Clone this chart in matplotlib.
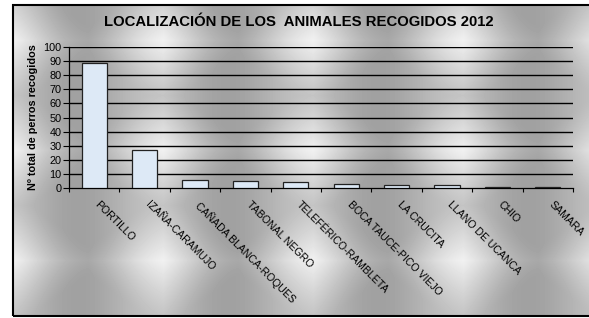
import numpy as np
import matplotlib
matplotlib.use('Agg')
import matplotlib.pyplot as plt
from matplotlib.patches import Rectangle

plt.rcParams['font.family'] = ['Liberation Sans', 'DejaVu Sans']

#===============================================================================
# Data
#===============================================================================

lugares = ['PORTILLO', 'IZAÑA-CARAMUJO', 'CAÑADA BLANCA-ROQUES',
           'TABONAL NEGRO', 'TELEFÉRICO-RAMBLETA', 'BOCA TAUCE-PICO VIEJO',
           'LA CRUCITA', 'LLANO DE UCANCA', 'CHIO', 'SAMARA']
perros = [89, 27, 6, 5, 4, 3, 2, 2, 1, 1]
yticks = list(range(0, 101, 10))

titulo = 'LOCALIZACIÓN DE LOS  ANIMALES RECOGIDOS 2012'
ylabel = 'Nº total de perros recogidos'

#===============================================================================
# Figure
#===============================================================================

W, H = 589, 318
fig = plt.figure(figsize=(W / 100, H / 100), dpi=100)
fig.patch.set_facecolor('white')

# chrome-like textured background of the chart area
bg = fig.add_axes([13 / W, 2 / H, 1 - 13 / W, 311 / H])
xx, yy = np.meshgrid(np.arange(W - 13), np.arange(311))
u = ((xx + 75) % 150) / 150.0 - 0.5
w = ((yy + 20) % 110) / 110.0 - 0.5
spot = np.clip(1 - 1.6 * (np.abs(u) + np.abs(w)), 0, 1) ** 1.3
band = 0.5 + 0.5 * np.cos(2 * np.pi * (xx - 140) / 150.0)
tex = 0.63 + 0.12 * band + 0.2 * spot
tex = np.clip(tex, 0, 0.96)
bg.imshow(tex, cmap='gray', vmin=0, vmax=1, aspect='auto',
          interpolation='bilinear')
bg.set_axis_off()
fig.add_artist(Rectangle((13 / W, 2 / H), 1.2, 311 / H,
                         transform=fig.transFigure, fill=False,
                         edgecolor='black', linewidth=1.5))

ax = fig.add_axes([69 / W, 130 / H, 504 / W, 141 / H])
ax.patch.set_alpha(0)

x = np.arange(len(lugares))
ax.bar(x, perros, width=0.5, color='#dde9f6', edgecolor='#222222',
       linewidth=0.9, zorder=3)

ax.set_xlim(-0.5, len(lugares) - 0.5)
ax.set_ylim(0, 100)
ax.set_yticks(yticks)
ax.set_yticklabels([str(t) for t in yticks], fontsize=7.8)
for t in yticks[1:]:
    ax.axhline(t, color='black', linewidth=1.0, zorder=1)

ax.set_xticks(np.arange(len(lugares) + 1) - 0.5)
ax.set_xticklabels([])
ax.tick_params(axis='x', direction='out', length=3, width=0.8)
ax.tick_params(axis='y', direction='out', length=4, width=0.8, pad=1.5)
for s in ['top', 'right']:
    ax.spines[s].set_visible(False)
ax.spines['left'].set_linewidth(0.9)
ax.spines['bottom'].set_linewidth(0.9)

for i, nombre in enumerate(lugares):
    ax.text(i + 0.12, -8, nombre, rotation=-45, ha='left', va='top',
            rotation_mode='anchor', fontsize=7.6, transform=ax.transData)

ax.set_ylabel(ylabel, fontsize=7.8, fontweight='bold', labelpad=4)
fig.text(299 / W, 1 - 22 / H, titulo, ha='center', va='center',
         fontsize=10.7, fontweight='bold')

fig.savefig('out.png', dpi=100)
